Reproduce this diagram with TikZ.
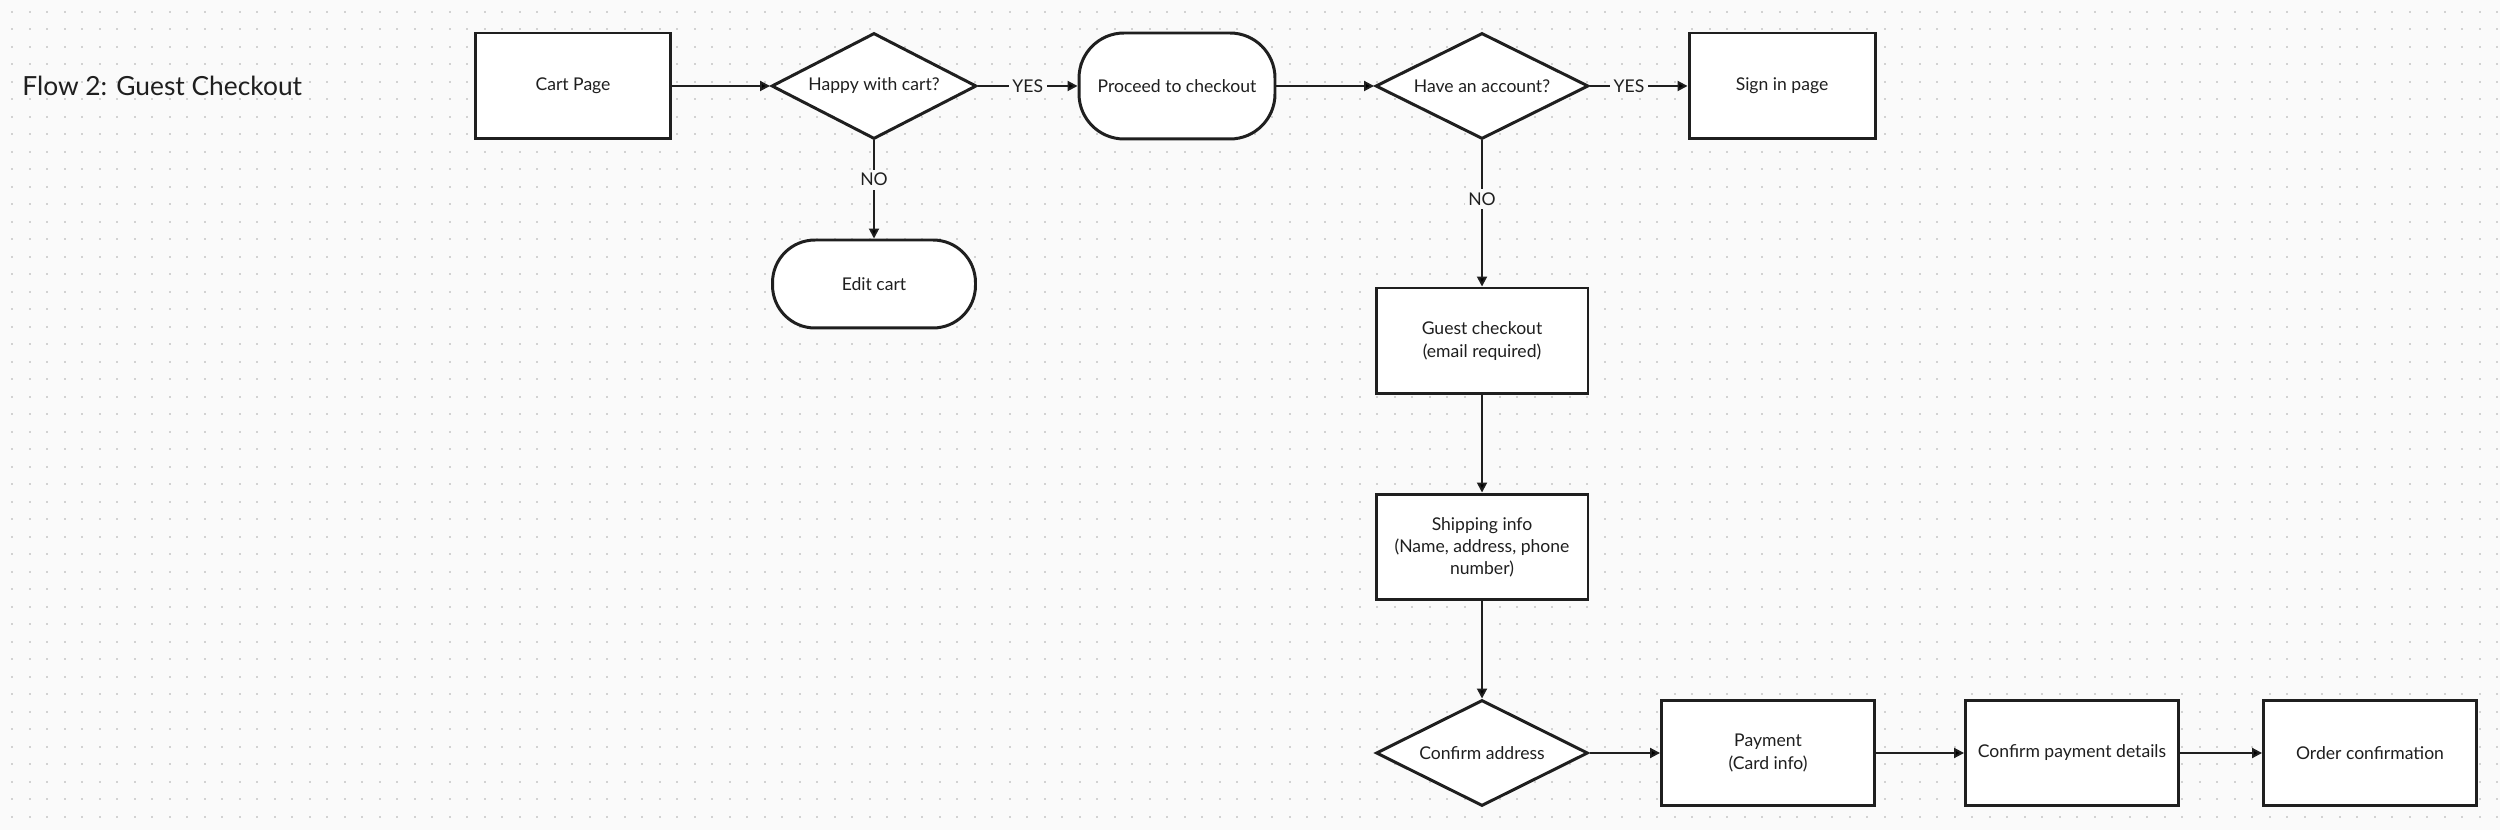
\documentclass[tikz,border=0pt]{standalone}
\usepackage{fontspec}
\setmainfont{Lato}
\usepackage{tikz}
\usetikzlibrary {arrows.meta, shapes.geometric, positioning}
\definecolor{canvas}{HTML}{FAFAFA}
\definecolor{ink}{HTML}{1F1F1F}
\definecolor{griddot}{HTML}{D2D2D2}

\begin{document}
\begin{tikzpicture}[x=0.02cm,y=-0.02cm,>={Triangle[length=0.2cm,width=0.2cm]},
      every node/.style={text=ink,font=\fontsize{10}{12.6}\selectfont},
      page/.style={draw=ink,line width=1.7pt,fill=white,minimum width=3.92cm,minimum height=2.12cm,align=center,inner sep=2pt},
      question/.style={draw=ink,line width=1.7pt,fill=white,diamond,aspect=2,minimum width=4.1cm,minimum height=2.12cm,inner sep=0pt},
      terminal/.style={draw=ink,line width=1.7pt,fill=white,rounded corners=0.9cm,minimum width=3.92cm,minimum height=2.12cm},
      answer/.style={fill=canvas,inner sep=2pt},
      flow/.style={->,draw=ink,line width=1.1pt}]
      \fill[canvas] (0,0) rectangle (2500,830);
      \useasboundingbox (0,0) rectangle (2500,830);
      % dotted canvas
      \foreach \gx in {0,...,142}
        \draw[griddot,line width=0.04cm,dash pattern=on 0.04cm off 0.31cm]
          (12+17.5*\gx,11) -- (12+17.5*\gx,830);

      \node[anchor=west,inner sep=0pt,font=\fontsize{15}{18}\selectfont] (title) at (22,86) {Flow 2: Guest Checkout};

      \node[page]     (cart)    at (573,86)   {Cart Page};
      \node[question] (happy)   at (874,86)   {Happy with cart?};
      \node[terminal] (proceed) at (1177,86)  {Proceed to checkout};
      \node[question, minimum width=4.26cm] (account) at (1482,86) {Have an account?};
      \node[page, minimum width=3.72cm] (signin) at (1782,86) {Sign in page};
      \node[terminal, minimum width=4.06cm, minimum height=1.76cm, rounded corners=0.85cm] (editcart) at (874,284) {Edit cart};

      \node[page, minimum width=4.24cm] (guest)    at (1482,341) {Guest checkout\\(email required)};
      \node[page, minimum width=4.24cm] (shipping) at (1482,547) {Shipping info\\(Name, address, phone\\number)};
      \node[question, minimum width=4.24cm] (confirmaddr) at (1482,753) {Confirm address};
      \node[page, minimum width=4.26cm] (payment)   at (1768,753) {Payment\\(Card info)};
      \node[page, minimum width=4.26cm] (confirmpay) at (2072,753) {Confirm payment details};
      \node[page, minimum width=4.26cm] (order)     at (2370,753) {Order confirmation};

      \path[flow]
      (cart) edge (happy)
      (happy) edge node [answer] {YES} (proceed)
      (happy) edge node [answer, pos=0.4] {NO} (editcart)
      (proceed) edge (account)
      (account) edge node [answer, pos=0.4] {YES} (signin)
      (account) edge node [answer, pos=0.4] {NO} (guest)
      (guest) edge (shipping)
      (shipping) edge (confirmaddr)
      (confirmaddr) edge (payment)
      (payment) edge (confirmpay)
      (confirmpay) edge (order);
    \end{tikzpicture}
\end{document}
